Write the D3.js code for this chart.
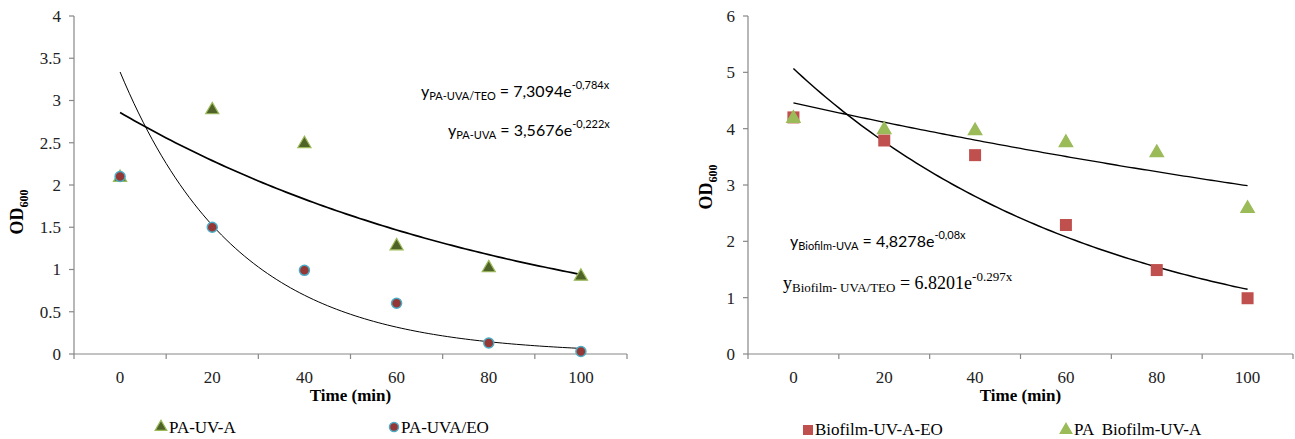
<!DOCTYPE html>
<html>
<head>
<meta charset="utf-8">
<script src="https://cdn.jsdelivr.net/npm/d3@7"></script>
<style>
  body { margin: 0; background: #fff; }
  svg text { font-family: "Liberation Serif", "Times New Roman", serif; }
</style>
</head>
<body>
<svg id="chart" width="1295" height="439"></svg>
<script>
// categories (time, min)
var times = ["0", "20", "40", "60", "80", "100"];

// left chart values
var paUVA = [2.1, 2.9, 2.5, 1.29, 1.03, 0.93];
var paUVAEO = [2.1, 1.5, 0.99, 0.6, 0.13, 0.03];
var leftTicks = [0, 0.5, 1, 1.5, 2, 2.5, 3, 3.5, 4];

// right chart values
var biofilmEO = [4.2, 3.79, 3.53, 2.29, 1.49, 0.99];
var biofilmUVA = [4.2, 4.0, 3.98, 3.77, 3.59, 2.6];
var rightTicks = [0, 1, 2, 3, 4, 5, 6];

// trendline coefficients shown on the chart (y = a * e^(b*x), x = category index 1..6)
var trendPaUVA = [3.5676, -0.222];
var trendPaUVAEO = [7.3094, -0.784];
var trendBioUVA = [4.8278, -0.08];
var trendBioEO = [6.8201, -0.297];

var svg = d3.select("#chart");

function drawPanel(opt) {
  var g = svg.append("g");

  var x = d3.scaleBand().domain(times).range([opt.left, opt.right]).padding(0);
  var y = d3.scaleLinear().domain([0, opt.ymax]).range([354, 16]);
  // continuous position for the category index (1..6) used by trendlines
  var xi = d3.scaleLinear().domain([0.5, times.length + 0.5]).range([opt.left, opt.right]);

  // y axis
  g.append("line").attr("x1", opt.left).attr("x2", opt.left).attr("y1", 16).attr("y2", 354)
    .attr("stroke", "#888").attr("stroke-width", 1.2);
  opt.ticks.forEach(function(t) {
    g.append("line").attr("x1", opt.left - 5).attr("x2", opt.left).attr("y1", y(t)).attr("y2", y(t))
      .attr("stroke", "#888").attr("stroke-width", 1.2);
    g.append("text").attr("x", opt.left - 13).attr("y", y(t)).attr("dy", "0.35em")
      .attr("text-anchor", "end").style("font-size", "17px").attr("fill", "#222").text(t);
  });

  // x axis
  g.append("line").attr("x1", opt.left).attr("x2", opt.right).attr("y1", 354).attr("y2", 354)
    .attr("stroke", "#888").attr("stroke-width", 1.2);
  var edges = times.map(function(d) { return x(d); }).concat([opt.right]);
  edges.forEach(function(e) {
    g.append("line").attr("x1", e).attr("x2", e).attr("y1", 354).attr("y2", 359)
      .attr("stroke", "#888").attr("stroke-width", 1.2);
  });
  times.forEach(function(d) {
    g.append("text").attr("x", x(d) + x.bandwidth() / 2).attr("y", 383)
      .attr("text-anchor", "middle").style("font-size", "17px").attr("fill", "#222").text(d);
  });

  // axis titles
  g.append("text").attr("x", (opt.left + opt.right) / 2).attr("y", 401)
    .attr("text-anchor", "middle").style("font-size", "17px").style("font-weight", "bold").text("Time (min)");
  var yt = g.append("text").attr("transform", "translate(" + opt.ytitleX + "," + opt.ytitleY + ") rotate(-90)")
    .attr("text-anchor", "middle").style("font-size", "18px").style("font-weight", "bold");
  yt.append("tspan").text("OD");
  yt.append("tspan").attr("dy", 5).style("font-size", "12px").text("600");

  // trendlines
  opt.trends.forEach(function(tr) {
    var pts = d3.range(1, times.length + 0.001, 0.05).map(function(t) { return [t, tr.c[0] * Math.exp(tr.c[1] * t)]; });
    g.append("path").datum(pts)
      .attr("fill", "none").attr("stroke", "#000").attr("stroke-width", tr.w)
      .attr("d", d3.line().x(function(p) { return xi(p[0]); }).y(function(p) { return y(p[1]); }));
  });

  return {g: g, x: x, y: y};
}

function triangle(g, cx, cy, fill, stroke, size) {
  g.append("path").attr("d", d3.symbol().type(d3.symbolTriangle).size(size)())
    .attr("transform", "translate(" + cx + "," + cy + ")")
    .attr("fill", fill).attr("stroke", stroke).attr("stroke-width", 1.2);
}

function equation(g, x, y, base, sub, power, font, size, small) {
  var t = g.append("text").attr("x", x).attr("y", y).style("font-size", size + "px");
  if (font) t.style("font-family", font);
  t.append("tspan").text("y");
  t.append("tspan").attr("dy", 3).style("font-size", small + "px").text(sub);
  t.append("tspan").attr("dy", -3).text(base);
  t.append("tspan").attr("dy", -8).style("font-size", small + "px").text(power);
}

var calibri = "Lato, 'Open Sans', sans-serif";

// ---------------- left panel ----------------
var L = drawPanel({left: 74, right: 627, ymax: 4, ticks: leftTicks, ytitleX: 23, ytitleY: 212,
  trends: [{c: trendPaUVA, w: 1.7}, {c: trendPaUVAEO, w: 1}]});

paUVA.forEach(function(v, i) {
  triangle(L.g, L.x(times[i]) + L.x.bandwidth() / 2, L.y(v) + 1, "#4F6228", "#9BBB59", 75);
});
paUVAEO.forEach(function(v, i) {
  L.g.append("circle").attr("cx", L.x(times[i]) + L.x.bandwidth() / 2).attr("cy", L.y(v)).attr("r", 5)
    .attr("fill", "#953735").attr("stroke", "#4BACC6").attr("stroke-width", 1.5);
});

// equations
equation(L.g, 421, 97, " = 7,3094e", "PA-UVA/TEO", "-0,784x", calibri, 16, 11);
equation(L.g, 448, 136, " = 3,5676e", "PA-UVA", "-0,222x", calibri, 16, 11);

// legend
triangle(L.g, 161, 427, "#4F6228", "#9BBB59", 60);
L.g.append("text").attr("x", 169).attr("y", 433).style("font-size", "17px").text("PA-UV-A");
L.g.append("circle").attr("cx", 394).attr("cy", 427).attr("r", 4.5)
  .attr("fill", "#953735").attr("stroke", "#4BACC6").attr("stroke-width", 1.5);
L.g.append("text").attr("x", 401).attr("y", 433).style("font-size", "17px").text("PA-UVA/EO");

// ---------------- right panel ----------------
var R = drawPanel({left: 748, right: 1293, ymax: 6, ticks: rightTicks, ytitleX: 712, ytitleY: 187,
  trends: [{c: trendBioUVA, w: 1.3}, {c: trendBioEO, w: 1.5}]});

biofilmEO.forEach(function(v, i) {
  var cx = R.x(times[i]) + R.x.bandwidth() / 2;
  R.g.append("rect").attr("x", cx - 6).attr("y", R.y(v) - 6).attr("width", 12).attr("height", 12)
    .attr("fill", "#C0504D");
});
biofilmUVA.forEach(function(v, i) {
  triangle(R.g, R.x(times[i]) + R.x.bandwidth() / 2, R.y(v) + 1, "#9BBB59", "#9BBB59", 80);
});

equation(R.g, 790, 247, " = 4,8278e", "Biofilm-UVA", "-0,08x", calibri, 16, 11);
equation(R.g, 783, 289, " = 6.8201e", "Biofilm- UVA/TEO", "-0.297x", null, 18, 13);

// legend
R.g.append("rect").attr("x", 803).attr("y", 425).attr("width", 10).attr("height", 10).attr("fill", "#C0504D");
R.g.append("text").attr("x", 815).attr("y", 435).style("font-size", "17px").text("Biofilm-UV-A-EO");
triangle(R.g, 1066, 430, "#9BBB59", "#9BBB59", 60);
R.g.append("text").attr("x", 1074).attr("y", 435).style("font-size", "17px").style("white-space", "pre").text("PA  Biofilm-UV-A");
</script>
</body>
</html>
